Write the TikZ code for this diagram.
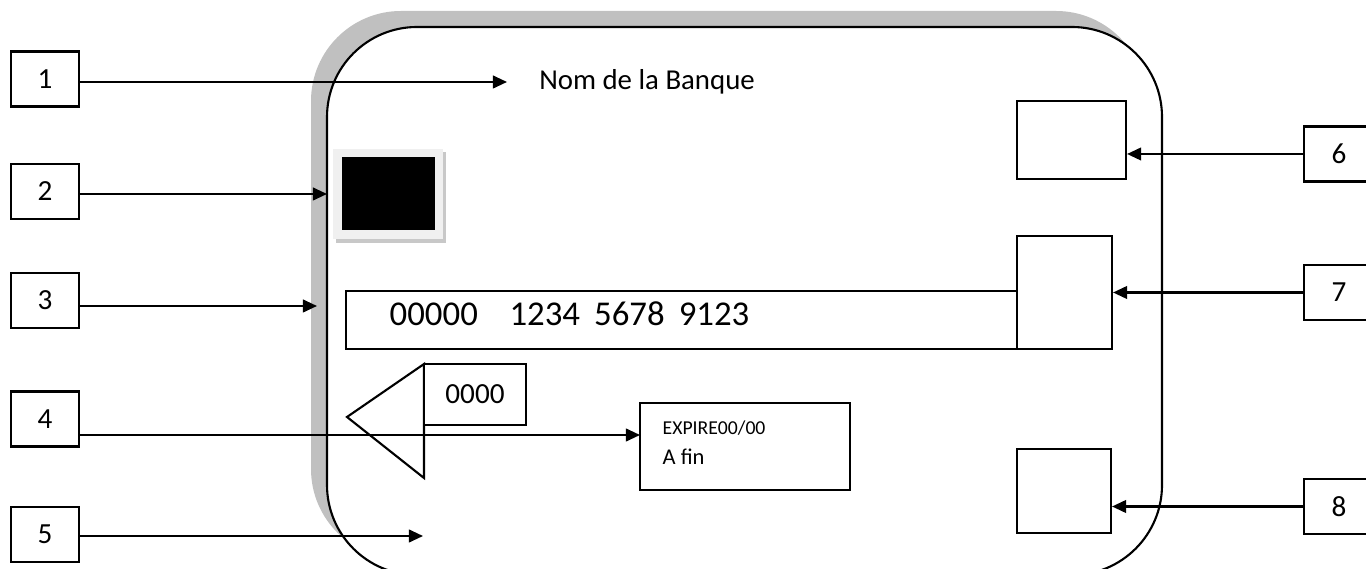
\documentclass[tikz,border=0pt]{standalone}
\usepackage{fontspec}
\setmainfont{Carlito}
\usepackage{xcolor}
\definecolor{cardshadow}{RGB}{192,192,192}
\definecolor{chipframe}{RGB}{240,240,240}
\definecolor{chipshadow}{RGB}{200,200,200}
\usetikzlibrary{arrows.meta, positioning, calc}

\tikzset{
  numbox/.style={draw, line width=0.6pt, minimum width=0.68cm, minimum height=0.55cm,
                 inner sep=0pt, font=\fontsize{8.3}{10}\selectfont},
  cardbox/.style={draw, line width=0.6pt, fill=white, inner sep=0pt},
  arr/.style={-{Triangle[length=4pt,width=3.6pt]}, line width=0.6pt},
}

\begin{document}
\begin{tikzpicture}
  \useasboundingbox (0,0) rectangle (13.66,5.69);
  \clip (0,0) rectangle (13.66,5.69);

  % Card with its shadow
  \fill[cardshadow, rounded corners=0.9cm] (3.11,0.10) rectangle (11.46,5.58);
  \draw[line width=0.6pt, fill=white, rounded corners=0.9cm] (3.27,-0.06) rectangle (11.62,5.42);

  % Bank name
  \node[font=\fontsize{8.2}{10}\selectfont] (bank) at (6.47,4.87) {Nom de la Banque};

  % Chip
  \fill[chipshadow] (3.36,3.26) rectangle (4.46,4.17);
  \fill[chipframe]  (3.33,3.30) rectangle (4.43,4.20);
  \fill[black]      (3.42,3.39) rectangle (4.35,4.12);

  % Card number strip
  \draw[line width=0.6pt] (3.46,2.20) rectangle (10.17,2.78);
  \node[anchor=west, inner sep=0pt, font=\fontsize{9.9}{11}\selectfont] (number) at (3.89,2.55)
       {00000\hspace{9pt}1234\hspace{4pt}5678\hspace{4pt}9123};

  % Triangle and code
  \draw[line width=0.6pt] (4.24,0.91) -- (3.47,1.52) -- (4.24,2.05) -- cycle;
  \node[cardbox, minimum width=1.02cm, minimum height=0.61cm, font=\fontsize{8.3}{10}\selectfont]
       (code) at (4.75,1.745) {0000};

  % Expiry box
  \node[cardbox, minimum width=2.10cm, minimum height=0.87cm] (expire) at (7.45,1.225) {};
  \node[anchor=west, inner sep=0pt, font=\fontsize{5.6}{7}\selectfont] (exptext) at (6.62,1.41) {EXPIRE00/00};
  \node[anchor=west, inner sep=0pt, font=\fontsize{6.4}{8}\selectfont] (fintext) at (6.62,1.12) {A fin};

  % Boxes on the right of the card
  \node[cardbox, minimum width=1.09cm, minimum height=0.78cm] (s6) at (10.715,4.29) {};
  \node[cardbox, minimum width=0.95cm, minimum height=1.13cm] (s7) at (10.645,2.765) {};
  \node[cardbox, minimum width=0.94cm, minimum height=0.84cm] (s8) at (10.64,0.78) {};

  % Numbered boxes
  \node[numbox] (b1) at (0.45,4.90) {1};
  \node[numbox] (b2) at (0.45,3.775) {2};
  \node[numbox] (b3) at (0.45,2.685) {3};
  \node[numbox] (b4) at (0.45,1.50) {4};
  \node[numbox] (b5) at (0.45,0.345) {5};
  \node[numbox, minimum width=0.70cm] (b6) at (13.39,4.15) {6};
  \node[numbox, minimum width=0.70cm] (b7) at (13.39,2.765) {7};
  \node[numbox, minimum width=0.70cm] (b8) at (13.39,0.625) {8};

  % Arrow ends
  \coordinate (t1) at (5.07,4.87);
  \coordinate (t2) at (3.27,3.75);
  \coordinate (t3) at (3.17,2.63);
  \coordinate (t4) at (6.40,1.34);
  \coordinate (t5) at (4.23,0.33);

  % Arrows
  \draw[arr] (b1.east |- t1) -- (t1);
  \draw[arr] (b2.east |- t2) -- (t2);
  \draw[arr] (b3.east |- t3) -- (t3);
  \draw[arr] (b4.east |- t4) -- (t4);
  \draw[arr] (b5.east |- t5) -- (t5);
  \draw[arr] (b6.west) -- (b6.west -| s6.east);
  \draw[arr] (b7.west) -- (b7.west -| s7.east);
  \draw[arr] (b8.west) -- (b8.west -| s8.east);
\end{tikzpicture}
\end{document}
